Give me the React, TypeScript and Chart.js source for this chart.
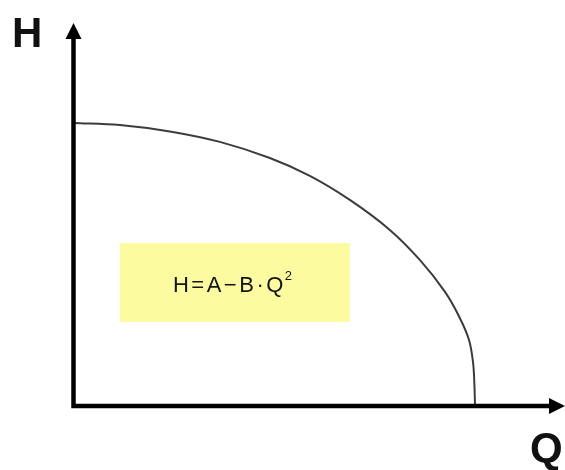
import React, { useEffect, useRef } from "react";
import { Chart, registerables } from "chart.js";

Chart.register(...registerables);

// Pump characteristic curve, flow Q (x) vs head H (y), arbitrary units
const flowQ = [0, 11.6, 24.1, 36.6, 49.1, 59.1, 69.1, 79.1, 86.6, 92.9, 96.6, 98.9, 99.9, 100.25, 100.4];
const headH = [100, 99.3, 97.0, 93.3, 87.6, 81.3, 72.8, 62.2, 51.6, 40.3, 31.1, 23.3, 15.5, 7.4, 0];

const axisLabelY = "H";
const axisLabelX = "Q";
const formulaMain = "H=A\u2212B\u00b7Q";
const formulaSup = "2";

const Q_MAX = 122.9;
const H_MAX = 135.3;

const FORMULA_FONT = "'Liberation Sans', Arial, sans-serif";

const decorPlugin = {
  id: "decor",
  beforeDatasetsDraw(chart: any) {
    const { ctx, scales } = chart;
    const xs = scales.x;
    const ys = scales.y;
    // yellow formula box
    const x1 = xs.getPixelForValue(11.6);
    const x2 = xs.getPixelForValue(69.1);
    const y1 = ys.getPixelForValue(57.6);
    const y2 = ys.getPixelForValue(29.7);
    ctx.save();
    ctx.fillStyle = "#fdfb9f";
    ctx.fillRect(x1, y1, x2 - x1, y2 - y1);
    // formula text
    ctx.fillStyle = "#141414";
    ctx.textBaseline = "alphabetic";
    ctx.textAlign = "left";
    (ctx as any).letterSpacing = "2.5px";
    ctx.font = "22px " + FORMULA_FONT;
    const mainW = ctx.measureText(formulaMain).width;
    (ctx as any).letterSpacing = "0px";
    ctx.font = "13px " + FORMULA_FONT;
    const supW = ctx.measureText(formulaSup).width;
    const total = mainW - 1 + supW;
    const cx = 232.5;
    const startX = cx - total / 2;
    const baseY = 291.5;
    (ctx as any).letterSpacing = "2.5px";
    ctx.font = "22px " + FORMULA_FONT;
    ctx.fillText(formulaMain, startX, baseY);
    (ctx as any).letterSpacing = "0px";
    ctx.font = "13px " + FORMULA_FONT;
    ctx.fillText(formulaSup, startX + mainW - 1, baseY - 12);
    ctx.restore();
  },
  afterDatasetsDraw(chart: any) {
    const { ctx, scales } = chart;
    const xs = scales.x;
    const ys = scales.y;
    const ox = xs.getPixelForValue(0);
    const oy = ys.getPixelForValue(0);
    const topY = ys.getPixelForValue(H_MAX);
    const rightX = xs.getPixelForValue(Q_MAX);
    ctx.save();
    ctx.strokeStyle = "#000";
    ctx.fillStyle = "#000";
    ctx.lineWidth = 4.5;
    ctx.lineCap = "square";
    ctx.beginPath();
    ctx.moveTo(ox, topY + 12);
    ctx.lineTo(ox, oy);
    ctx.lineTo(rightX - 12, oy);
    ctx.stroke();
    // y arrow head
    ctx.beginPath();
    ctx.moveTo(ox, topY);
    ctx.lineTo(ox - 8, topY + 16);
    ctx.lineTo(ox + 8, topY + 16);
    ctx.closePath();
    ctx.fill();
    // x arrow head
    ctx.beginPath();
    ctx.moveTo(rightX, oy);
    ctx.lineTo(rightX - 16, oy - 8);
    ctx.lineTo(rightX - 16, oy + 8);
    ctx.closePath();
    ctx.fill();
    // axis labels
    ctx.fillStyle = "#111";
    ctx.font = "bold 42px 'Liberation Sans', Arial, sans-serif";
    ctx.textBaseline = "alphabetic";
    ctx.textAlign = "left";
    ctx.fillText(axisLabelY, 12, 47);
    ctx.fillText(axisLabelX, 530, 462);
    ctx.restore();
  },
};

export default function App() {
  const ref = useRef<HTMLCanvasElement>(null);
  useEffect(() => {
    if (!ref.current) return;
    const chart = new Chart(ref.current, {
      type: "line",
      data: {
        datasets: [
          {
            data: flowQ.map((q, i) => ({ x: q, y: headH[i] })),
            borderColor: "#3c3c3c",
            borderWidth: 2,
            pointRadius: 0,
            fill: false,
            tension: 0.35,
          },
        ],
      },
      options: {
        responsive: false,
        animation: false,
        events: [],
        layout: { padding: { left: 73.5, top: 23, right: 0, bottom: 64 } },
        plugins: { legend: { display: false }, tooltip: { enabled: false }, title: { display: false } },
        scales: {
          x: { type: "linear", min: 0, max: Q_MAX, display: false },
          y: { type: "linear", min: 0, max: H_MAX, display: false },
        },
      },
      plugins: [decorPlugin],
    });
    return () => chart.destroy();
  }, []);
  return (
    <div style={{ position: "absolute", left: 0, top: 0, width: 565, height: 470, background: "#fff" }}>
      <canvas ref={ref} width={565} height={470} style={{ display: "block" }} />
    </div>
  );
}
